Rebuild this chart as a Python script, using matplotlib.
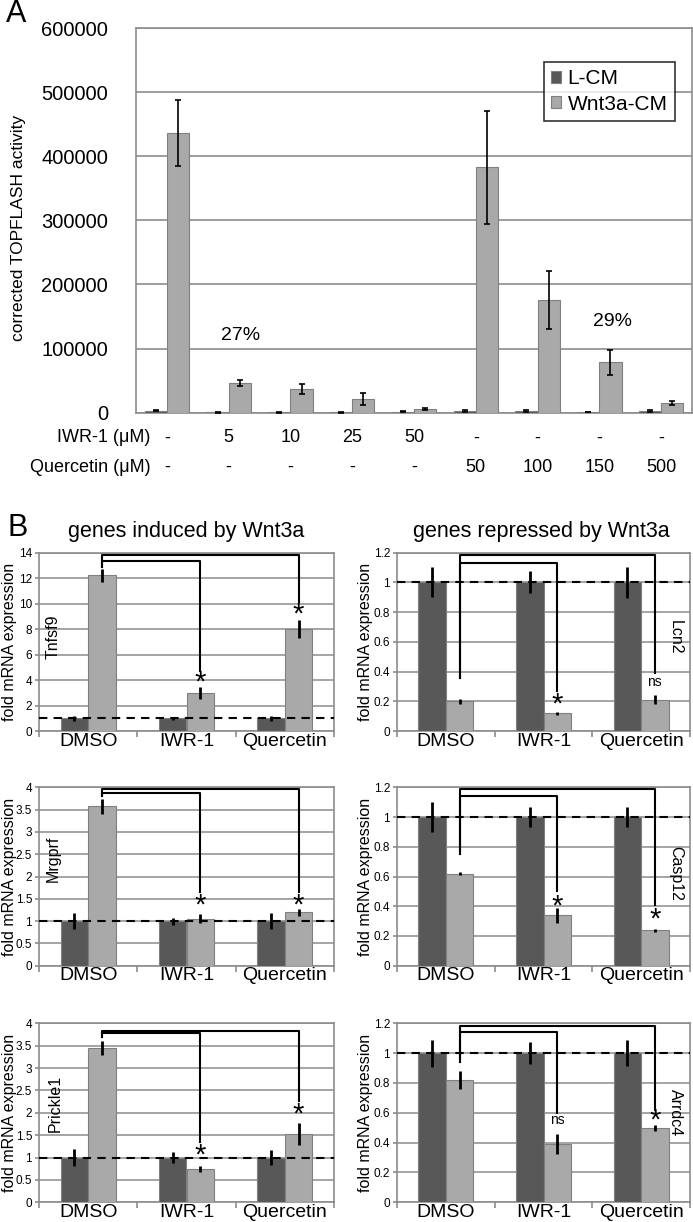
import matplotlib
matplotlib.use("Agg")
import matplotlib.pyplot as plt
import matplotlib.transforms as mtransforms
import numpy as np

plt.rcParams['font.family'] = ['Liberation Sans', 'DejaVu Sans']

# ---------------- Panel A data ----------------
a_groups = 9
a_lcm = [3000, 500, 500, 500, 1500, 3000, 2500, 1000, 3000]
a_lcm_err = [1000, 300, 300, 300, 800, 1200, 1000, 600, 1500]
a_wnt = [436000, 46000, 37000, 21500, 5800, 383000, 176000, 79000, 15000]
a_wnt_err = [51000, 5000, 7500, 10000, 1500, 88000, 45000, 19500, 3500]
a_iwr = ['-', '5', '10', '25', '50', '-', '-', '-', '-']
a_quer = ['-', '-', '-', '-', '-', '50', '100', '150', '500']
a_yticks = [0, 100000, 200000, 300000, 400000, 500000, 600000]

# ---------------- Panel B data ----------------
b_cats = ['DMSO', 'IWR-1', 'Quercetin']
genes = ['Tnfsf9', 'Lcn2', 'Mrgprf', 'Casp12', 'Prickle1', 'Arrdc4']
lcm_vals = {g: [1.0, 1.0, 1.0] for g in genes}
lcm_err = {
    'Tnfsf9': [0.18, 0.14, 0.18],
    'Lcn2': [0.10, 0.075, 0.105],
    'Mrgprf': [0.18, 0.08, 0.18],
    'Casp12': [0.10, 0.065, 0.07],
    'Prickle1': [0.18, 0.13, 0.17],
    'Arrdc4': [0.09, 0.075, 0.085],
}
wnt_vals = {
    'Tnfsf9': [12.2, 3.0, 8.0],
    'Lcn2': [0.20, 0.12, 0.21],
    'Mrgprf': [3.57, 1.05, 1.20],
    'Casp12': [0.62, 0.34, 0.24],
    'Prickle1': [3.45, 0.75, 1.53],
    'Arrdc4': [0.82, 0.39, 0.50],
}
wnt_err = {
    'Tnfsf9': [0.5, 0.45, 0.7],
    'Lcn2': [0.015, 0.012, 0.03],
    'Mrgprf': [0.17, 0.10, 0.08],
    'Casp12': [0.012, 0.05, 0.01],
    'Prickle1': [0.16, 0.07, 0.25],
    'Arrdc4': [0.06, 0.065, 0.02],
}
y_max = {'Tnfsf9': 14, 'Lcn2': 1.2, 'Mrgprf': 4, 'Casp12': 1.2, 'Prickle1': 4, 'Arrdc4': 1.2}
y_step = {'Tnfsf9': 2, 'Lcn2': 0.2, 'Mrgprf': 0.5, 'Casp12': 0.2, 'Prickle1': 0.5, 'Arrdc4': 0.2}
# brackets: (left leg bottom, top1, IWR leg bottom, top2, Quercetin leg bottom)
brackets = {
    'Tnfsf9': (12.9, 13.3, 4.7, 13.8, 10.1),
    'Lcn2': (0.36, 1.13, 0.27, 1.18, 0.39),
    'Mrgprf': (3.80, 3.88, 1.66, 3.96, 1.66),
    'Casp12': (0.75, 1.143, 0.50, 1.186, 0.41),
    'Prickle1': (3.70, 3.78, 1.35, 3.83, 2.27),
    'Arrdc4': (0.94, 1.14, 0.60, 1.184, 0.62),
}
# significance marks: (IWR label, y), (Quercetin label, y)
sig = {
    'Tnfsf9': (('*', 3.8), ('*', 9.15)),
    'Lcn2': (('*', 0.18), ('ns', 0.33)),
    'Mrgprf': (('*', 1.35), ('*', 1.35)),
    'Casp12': (('*', 0.40), ('*', 0.31)),
    'Prickle1': (('*', 1.05), ('*', 1.95)),
    'Arrdc4': (('ns', 0.55), ('*', 0.55)),
}
gene_label_pos = {
    'Tnfsf9': (-0.36, 7.4, 90),
    'Lcn2': (2.35, 0.63, 270),
    'Mrgprf': (-0.36, 2.4, 90),
    'Casp12': (2.35, 0.62, 270),
    'Prickle1': (-0.33, 2.2, 90),
    'Arrdc4': (2.35, 0.60, 270),
}

W, H = 693, 1222
fig = plt.figure(figsize=(W / 100, H / 100), dpi=100)

def rect(x0, y0, x1, y1):
    return [x0 / W, 1 - y1 / H, (x1 - x0) / W, (y1 - y0) / H]

def fx(x):
    return x / W

def fy(y):
    return 1 - y / H

DARK = '#585858'
LIGHT = '#a9a9a9'
EDGE = '#808080'
GRID = '#8c8c8c'
NARROW = ['Liberation Sans Narrow', 'Liberation Sans', 'DejaVu Sans']

# ---------------- Panel A ----------------
axA = fig.add_axes(rect(136, 28, 692, 412.7))
x = np.arange(a_groups)
bw = 0.36
axA.bar(x - bw / 2, a_lcm, bw, color=DARK, edgecolor=EDGE, linewidth=0.8, zorder=3,
        label='L-CM')
axA.bar(x + bw / 2, a_wnt, bw, color=LIGHT, edgecolor=EDGE, linewidth=0.8, zorder=3,
        label='Wnt3a-CM')
axA.errorbar(x - bw / 2, a_lcm, yerr=a_lcm_err, fmt='none', ecolor='black',
             elinewidth=1.2, capsize=2, capthick=1.2, zorder=4)
axA.errorbar(x + bw / 2, a_wnt, yerr=a_wnt_err, fmt='none', ecolor='black',
             elinewidth=1.2, capsize=2.5, capthick=1.2, zorder=4)
axA.set_xlim(-0.5, a_groups - 0.5)
axA.set_ylim(0, 600000)
axA.set_yticks(a_yticks)
axA.set_yticklabels([str(v) for v in a_yticks], fontsize=14.5)
axA.set_xticks([])
axA.yaxis.grid(True, color=GRID, linewidth=1.2, zorder=0)
axA.set_axisbelow(True)
for s in axA.spines.values():
    s.set_color(GRID)
    s.set_linewidth(1.2)
axA.tick_params(axis='y', length=0, pad=20)
axA.set_ylabel('corrected TOPFLASH activity', fontsize=12.5, family=NARROW)
axA.yaxis.set_label_coords((26 - 136) / 556, (412.7 - 228) / 384.7)
leg = axA.legend(loc='upper right', bbox_to_anchor=((675 - 136) / 556, (412.7 - 62) / 384.7),
                 fontsize=15, frameon=True, fancybox=False, edgecolor='black',
                 handlelength=0.5, handleheight=0.5, handletextpad=0.3,
                 borderpad=0.35, labelspacing=0.3, borderaxespad=0)
leg.get_frame().set_linewidth(1.2)

trA = mtransforms.blended_transform_factory(axA.transData, fig.transFigure)
for i in range(a_groups):
    axA.text(i, fy(438), a_iwr[i], transform=trA, ha='center', va='center',
             fontsize=13, family=NARROW)
    axA.text(i, fy(467), a_quer[i], transform=trA, ha='center', va='center',
             fontsize=13, family=NARROW)
fig.text(fx(150), fy(438), 'IWR-1 (μM)', ha='right', va='center', fontsize=13, family=NARROW)
fig.text(fx(151), fy(467), 'Quercetin (μM)', ha='right', va='center', fontsize=13, family=NARROW)
fig.text(fx(241), fy(336), '27%', ha='center', va='center', fontsize=14, family=NARROW)
fig.text(fx(612), fy(322), '29%', ha='center', va='center', fontsize=14, family=NARROW)
fig.text(fx(6), fy(14), 'A', ha='left', va='center', fontsize=22)
fig.text(fx(8), fy(528), 'B', ha='left', va='center', fontsize=22)
fig.text(fx(186), fy(532), 'genes induced by Wnt3a', ha='center', va='center',
         fontsize=15.5, family=NARROW)
fig.text(fx(541), fy(532), 'genes repressed by Wnt3a', ha='center', va='center',
         fontsize=15.5, family=NARROW)

# ---------------- Panel B ----------------
cols = [(39, 334), (397, 690)]
ylab_x = [17, 373]
rows = [(552.5, 731.2), (787.3, 965.7), (1023.3, 1202.3)]
layout = [['Tnfsf9', 'Lcn2'], ['Mrgprf', 'Casp12'], ['Prickle1', 'Arrdc4']]
bwB = 0.28
xb = np.arange(3)
for r, (y0, y1) in enumerate(rows):
    for c, (x0, x1) in enumerate(cols):
        g = layout[r][c]
        ax = fig.add_axes(rect(x0, y0, x1, y1))
        ax.bar(xb - bwB / 2, lcm_vals[g], bwB, color=DARK, edgecolor=EDGE, linewidth=0.8, zorder=3)
        ax.bar(xb + bwB / 2, wnt_vals[g], bwB, color=LIGHT, edgecolor=EDGE, linewidth=0.8, zorder=3)
        ax.errorbar(xb - bwB / 2, lcm_vals[g], yerr=lcm_err[g], fmt='none', ecolor='black',
                    elinewidth=2, capsize=0, zorder=4)
        ax.errorbar(xb + bwB / 2, wnt_vals[g], yerr=wnt_err[g], fmt='none', ecolor='black',
                    elinewidth=2, capsize=0, zorder=4)
        ax.axhline(1.0, color='black', linestyle=(0, (4, 3)), linewidth=1.5, zorder=5)
        ax.set_xlim(-0.5, 2.5)
        ax.set_ylim(0, y_max[g])
        ticks = np.arange(0, y_max[g] + 1e-9, y_step[g])
        ax.set_yticks(ticks)
        ax.set_yticklabels(['%g' % t for t in ticks], fontsize=8.5)
        ax.set_xticks(xb)
        ax.set_xticklabels(b_cats, fontsize=14)
        ax.set_xticks([-0.5, 0.5, 1.5, 2.5], minor=True)
        ax.tick_params(axis='x', which='major', length=0, pad=1)
        ax.tick_params(axis='x', which='minor', length=4, color=GRID, width=1.2, direction='out')
        ax.tick_params(axis='y', length=3, color=GRID, width=1.2, pad=2)
        ax.yaxis.grid(True, color=GRID, linewidth=1.1, zorder=0)
        ax.set_axisbelow(True)
        for s in ax.spines.values():
            s.set_color(GRID)
            s.set_linewidth(1.2)
        ax.set_ylabel('fold mRNA expression', fontsize=11.5)
        ax.yaxis.set_label_coords((ylab_x[c] - x0) / (x1 - x0), 0.5)
        # brackets
        lb, t1, b1, t2, b2 = brackets[g]
        xl = 0 + bwB / 2
        xr1 = 1 + bwB / 2
        xr2 = 2 + bwB / 2
        ax.plot([xl, xl, xr1, xr1], [lb, t1, t1, b1], color='black', linewidth=1.5, zorder=6,
                clip_on=False)
        ax.plot([xl, xl, xr2, xr2], [lb, t2, t2, b2], color='black', linewidth=1.5, zorder=6,
                clip_on=False)
        (s1, ys1), (s2, ys2) = sig[g]
        for xs, s_, ys in [(xr1, s1, ys1), (xr2, s2, ys2)]:
            if s_ == '*':
                ax.text(xs, ys, '*', ha='center', va='center', fontsize=21, zorder=7)
            else:
                ax.text(xs, ys, 'ns', ha='center', va='center', fontsize=10, zorder=7)
        gx, gy, rot = gene_label_pos[g]
        ax.text(gx, gy, g, ha='center', va='center', rotation=rot, fontsize=11.5, zorder=7)

fig.savefig('out.png', dpi=100)
